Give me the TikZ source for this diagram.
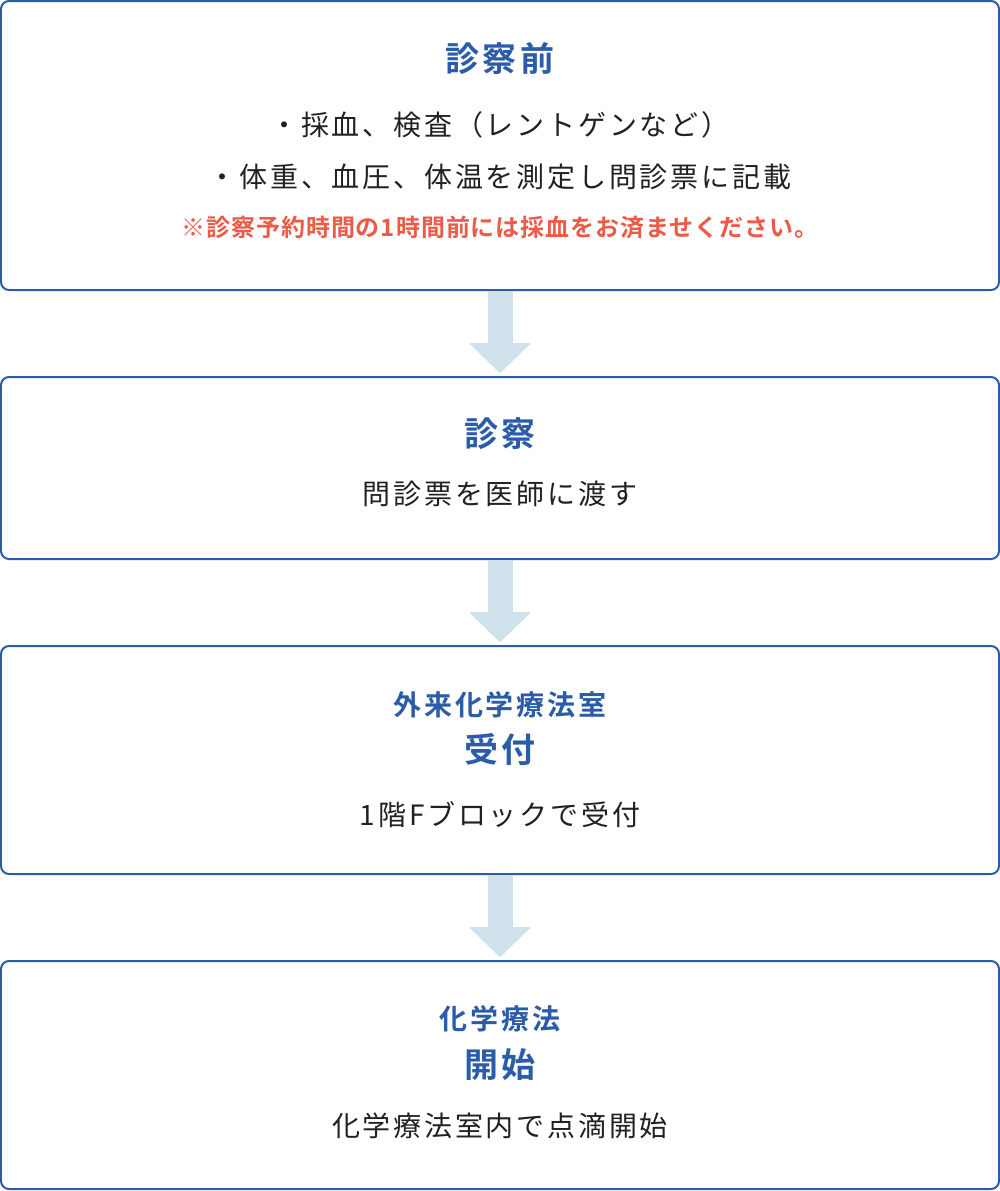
\documentclass[tikz,border=0pt]{standalone}
\usepackage{fontspec}
\setmainfont{Noto Sans CJK JP}[LetterSpace=10,BoldFont={Noto Sans CJK JP Bold}]
\newfontfamily\notefont{Noto Sans CJK JP}[LetterSpace=4,BoldFont={Noto Sans CJK JP Bold}]
\usetikzlibrary{arrows.meta}
\definecolor{flowblue}{RGB}{42,92,170}
\definecolor{notered}{RGB}{236,90,72}
\definecolor{arrowblue}{RGB}{207,226,235}
\tikzset{
  stepbox/.style={draw=flowblue,line width=2bp,rounded corners=8bp,fill=white,minimum width=998bp,inner sep=0pt},
  steptitle/.style={text=flowblue,font=\fontsize{34bp}{40bp}\selectfont\bfseries},
  stepsub/.style={text=flowblue,font=\fontsize{28bp}{34bp}\selectfont\bfseries},
  stepbody/.style={text=black!87,font=\fontsize{28bp}{34bp}\selectfont},
  stepnote/.style={text=notered,font=\notefont\fontsize{24bp}{30bp}\selectfont\bfseries},
  flowarrow/.style={arrowblue,line width=25bp,-{Triangle[width=62bp,length=30bp,line width=1bp,round]},shorten >=3bp}
}
\begin{document}
\begin{tikzpicture}[x=1bp,y=-1bp]
\useasboundingbox (0,0) rectangle (1000,1191);
% boxes
\node[stepbox,minimum height=289bp] (pre) at (500,145.5) {};
\node[stepbox,minimum height=182bp] (exam) at (500,468) {};
\node[stepbox,minimum height=228bp] (recep) at (500,760) {};
\node[stepbox,minimum height=228bp] (chemo) at (500,1075) {};
% arrows
\draw[flowarrow] (pre.south) -- (exam.north);
\draw[flowarrow] (exam.south) -- (recep.north);
\draw[flowarrow] (recep.south) -- (chemo.north);
% texts
\node[steptitle] (preT) at (500,58.5) {診察前};
\node[stepbody] (preA) at (500,125) {・採血、検査（レントゲンなど）};
\node[stepbody] (preB) at (500,177) {・体重、血圧、体温を測定し問診票に記載};
\node[stepnote] (preC) at (500,227) {※診察予約時間の1時間前には採血をお済ませください。};
\node[steptitle] (examT) at (500,434) {診察};
\node[stepbody] (examA) at (500,494) {問診票を医師に渡す};
\node[stepsub] (recepS) at (500,704.5) {外来化学療法室};
\node[steptitle] (recepT) at (500,750) {受付};
\node[stepbody] (recepA) at (500,815) {1階Fブロックで受付};
\node[stepsub] (chemoS) at (500,1019) {化学療法};
\node[steptitle] (chemoT) at (500,1065) {開始};
\node[stepbody] (chemoA) at (500,1125.5) {化学療法室内で点滴開始};
\end{tikzpicture}
\end{document}
